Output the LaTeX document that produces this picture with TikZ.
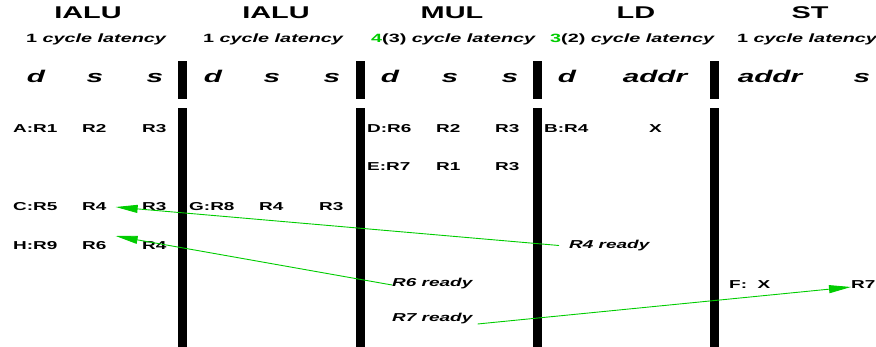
\documentclass[tikz,border=0pt]{standalone}
\usepackage{fontspec}
\setmainfont{Liberation Sans}
\usepackage{graphicx}
\usetikzlibrary{arrows.meta,calc}
\definecolor{rdygreen}{RGB}{0,204,0}
\def\hxs{1.8}
\newcommand\hx[1]{\scalebox{\hxs}[1]{#1}}
\tikzset{
  hdr/.style={anchor=base,inner sep=0pt,font=\def\hxs{1.7}\fontsize{17}{17}\selectfont\bfseries},
  lat/.style={anchor=base west,inner sep=0pt,font=\def\hxs{1.65}\fontsize{12}{12}\selectfont\bfseries},
  col/.style={anchor=base,inner sep=0pt,font=\def\hxs{1.75}\fontsize{17}{17}\selectfont\bfseries\itshape},
  reg/.style={anchor=base west,inner sep=0pt,font=\def\hxs{1.65}\fontsize{11.5}{11.5}\selectfont\bfseries},
  rdy/.style={anchor=base west,inner sep=0pt,font=\def\hxs{1.65}\fontsize{11.5}{11.5}\selectfont\bfseries\itshape},
  bar/.style={fill=black,draw=none},
  fwd/.style={draw=rdygreen,line width=0.9pt,-{Triangle[length=22pt,width=8pt]}}
}
\begin{document}
\begin{tikzpicture}[x=1pt,y=-1pt]
\useasboundingbox (0,0) rectangle (876,347);
% headers
\node[hdr] (h1) at (88,18.3) {\hx{IALU}};
\node[hdr] (h2) at (276,18.3) {\hx{IALU}};
\node[hdr] (h3) at (452,18.3) {\hx{MUL}};
\node[hdr] (h4) at (636,18.3) {\hx{LD}};
\node[hdr] (h5) at (810,18.3) {\hx{ST}};
% latencies
\node[lat] (l1) at (26,42.7) {\hx{1 \textit{cycle latency}}};
\node[lat] (l2) at (203,42.7) {\hx{1 \textit{cycle latency}}};
\node[lat] (l3) at (371,42.7) {\hx{\textcolor{rdygreen}{4}(3) \textit{cycle latency}}};
\node[lat] (l4) at (550,42.7) {\hx{\textcolor{rdygreen}{3}(2) \textit{cycle latency}}};
\node[lat] (l5) at (737,42.7) {\hx{1 \textit{cycle latency}}};
% column labels
\node[col] (c1d) at (36,83) {\hx{d}};
\node[col] (c1s) at (95,83) {\hx{s}};
\node[col] (c1t) at (155,83) {\hx{s}};
\node[col] (c2d) at (213,83) {\hx{d}};
\node[col] (c2s) at (272,83) {\hx{s}};
\node[col] (c2t) at (332,83) {\hx{s}};
\node[col] (c3d) at (390,83) {\hx{d}};
\node[col] (c3s) at (450,83) {\hx{s}};
\node[col] (c3t) at (510,83) {\hx{s}};
\node[col] (c4d) at (567,83) {\hx{d}};
\node[col] (c4a) at (655,83) {\hx{addr}};
\node[col] (c5a) at (770,83) {\hx{addr}};
\node[col] (c5s) at (862,83) {\hx{s}};
% bars
\foreach \bx in {178,356,533,710}{
  \fill[bar] (\bx,61) rectangle (\bx+9,99.5);
  \fill[bar] (\bx,108) rectangle (\bx+9,347);
}
% rows
\node[reg] (a1) at (13,132.5) {\hx{A:R1}};
\node[reg] (a2) at (82,132.5) {\hx{R2}};
\node[reg] (a3) at (142,132.5) {\hx{R3}};
\node[reg] (c1) at (13,210.5) {\hx{C:R5}};
\node[reg] (c2) at (82,210.5) {\hx{R4}};
\node[reg] (c3) at (142,210.5) {\hx{R3}};
\node[reg] (hh1) at (13,250) {\hx{H:R9}};
\node[reg] (hh2) at (82,250) {\hx{R6}};
\node[reg] (hh3) at (142,250) {\hx{R4}};
\node[reg] (g1) at (189,210.5) {\hx{G:R8}};
\node[reg] (g2) at (259,210.5) {\hx{R4}};
\node[reg] (g3) at (319,210.5) {\hx{R3}};
\node[reg] (d1) at (367,132.5) {\hx{D:R6}};
\node[reg] (d2) at (436,132.5) {\hx{R2}};
\node[reg] (d3) at (495,132.5) {\hx{R3}};
\node[reg] (e1) at (367,171) {\hx{E:R7}};
\node[reg] (e2) at (436,171) {\hx{R1}};
\node[reg] (e3) at (495,171) {\hx{R3}};
\node[reg] (b1) at (544,132.5) {\hx{B:R4}};
\node[reg] (b2) at (649,132.5) {\hx{X}};
\node[reg] (f1) at (729,289) {\hx{F:~~X}};
\node[reg] (f2) at (851,289) {\hx{R7}};
% ready labels
\node[rdy] (r4r) at (569,248.5) {\hx{R4 ready}};
\node[rdy] (r6r) at (392,287) {\hx{R6 ready}};
\node[rdy] (r7r) at (392,321.5) {\hx{R7 ready}};
% forwarding arrows
\draw[fwd] ($(r4r.base west)+(-10,-3)$) -- ($(c2.base east)+(9,-3.5)$);
\draw[fwd] ($(r6r.base west)+(0,-2)$) -- ($(hh2.base east)+(9,-14)$);
\draw[fwd] ($(r7r.base east)+(5,2.5)$) -- ($(f2.base west)+(0,-2)$);
\end{tikzpicture}
\end{document}
